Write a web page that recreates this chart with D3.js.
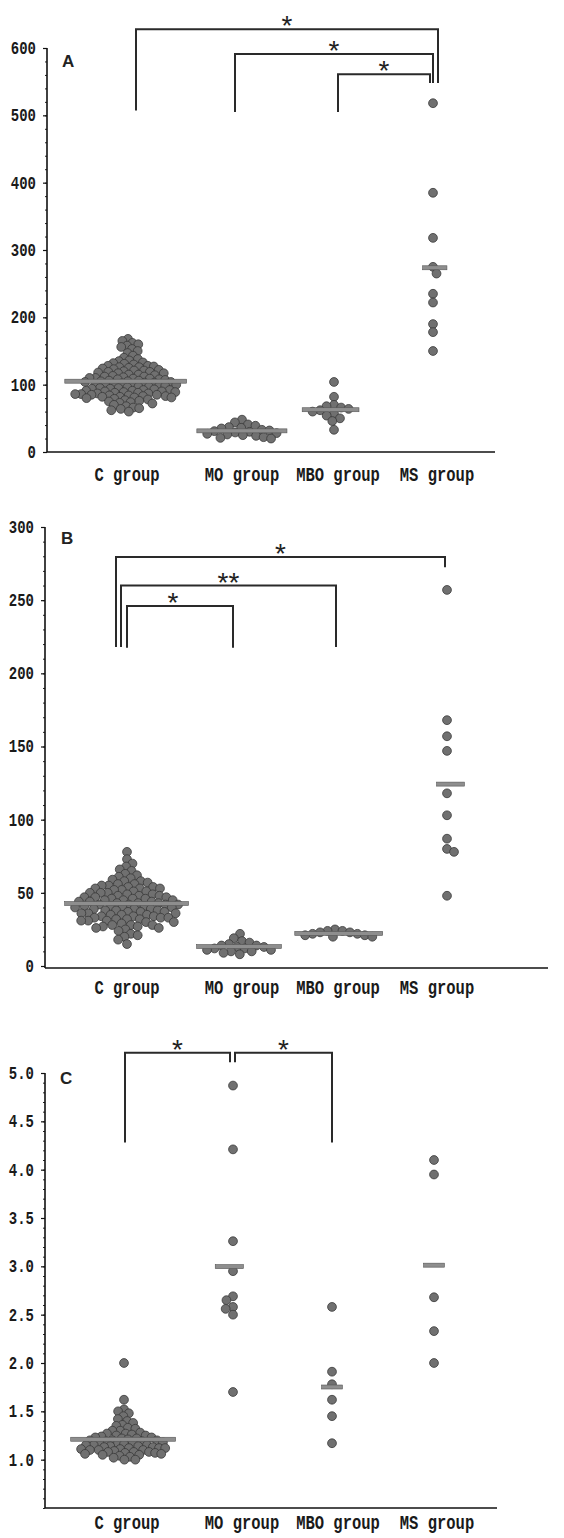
<!DOCTYPE html>
<html>
<head>
<meta charset="utf-8">
<script src="https://cdn.jsdelivr.net/npm/d3@7/dist/d3.min.js"></script>
<style>
  body { margin: 0; background: #fff; }
  .tick text, .glabel { font-family: "Liberation Mono", monospace; fill: #1a1a1a; font-weight: bold; }
</style>
</head>
<body>
<div id="chart"></div>
<script>
// group names on the x axis
var groups = ['C group', 'MO group', 'MBO group', 'MS group']

// panel A values
var aC = [168, 165, 162, 160, 158, 156, 153, 150, 147, 143, 140,
    138, 136, 135, 133, 132, 131, 130, 128, 128, 127, 126, 125, 124, 123, 121, 121, 120,
    126, 122, 119, 117, 113, 109, 106, 104, 101, 97, 94, 91, 89, 87, 85, 83, 81,
    119, 118, 117, 115, 115, 114, 112, 112, 111, 110, 110, 109, 108, 108, 107, 106, 105, 105, 104, 103, 103, 102, 101, 100, 100,
    99, 98, 98, 97, 96, 95, 95, 94, 93, 92, 92, 91, 90, 90, 89, 88, 88, 87, 86, 86, 85, 84, 84, 83, 82, 82, 81, 80,
    79, 78, 77, 76, 75, 74, 73, 72, 70, 68, 66, 65, 64, 62, 60]
var aMO = [48, 44, 41, 39, 37, 36, 35, 33, 32, 31, 30, 29, 28, 27, 26, 25, 24, 22, 21, 20]
var aMBO = [104, 82, 70, 68, 66, 64, 62, 60, 57, 54, 50, 46, 33]
var aMS = [518, 385, 318, 275, 265, 235, 222, 190, 178, 150]
var ticksA = [0, 100, 200, 300, 400, 500, 600]

// panel B values
var bC = [78, 73, 70, 68, 66, 65, 63, 62, 61, 60,
    59, 58, 58, 57, 56, 56, 55, 55,
    54, 54, 53, 53, 52, 52, 51, 51, 50, 50,
    49, 49, 48, 48, 47, 47, 46, 46, 45, 45, 45,
    44, 44, 43, 43, 42, 42, 42, 41, 41, 40, 40, 40,
    39, 39, 38, 38, 37, 37, 36, 36, 35, 35, 35,
    34, 34, 33, 33, 33, 32, 32, 31, 31, 31, 30, 30,
    53, 50, 48, 46, 44, 43, 41, 39, 38, 36, 34, 32, 47, 42, 37,
    29, 28, 28, 28, 27, 27, 26, 26, 25,
    24, 22, 21, 20, 18, 15]
var bMO = [22, 19, 17, 16, 15, 14, 14, 13, 13, 12, 12, 11, 11, 10, 10, 9, 8]
var bMBO = [25, 24, 24, 23, 23, 22, 22, 21, 21, 20, 20]
var bMS = [257, 168, 157, 147, 118, 103, 87, 80, 78, 48]
var ticksB = [0, 50, 100, 150, 200, 250, 300]

// panel C values
var cC = [2.0, 1.62, 1.52, 1.5, 1.48, 1.45, 1.42, 1.4, 1.38, 1.36,
    1.35, 1.33, 1.32, 1.3, 1.3, 1.28, 1.27, 1.27, 1.26, 1.25, 1.25,
    1.24, 1.23, 1.22, 1.22, 1.21, 1.2, 1.2, 1.19, 1.18, 1.18, 1.17, 1.16,
    1.15, 1.15, 1.14, 1.13, 1.13, 1.12, 1.12, 1.11, 1.1, 1.1, 1.09,
    1.23, 1.2, 1.17, 1.15, 1.12, 1.1, 1.08, 1.06, 1.14, 1.19, 1.11, 1.07,
    1.08, 1.08, 1.07, 1.06, 1.05, 1.05, 1.04, 1.03, 1.02, 1.0, 1.0]
var cMO = [4.87, 4.21, 3.26, 2.95, 2.69, 2.65, 2.58, 2.56, 2.5, 1.7]
var cMBO = [2.58, 1.91, 1.78, 1.62, 1.45, 1.17]
var cMS = [4.1, 3.95, 2.68, 2.33, 2.0]
var ticksC = [1.0, 1.5, 2.0, 2.5, 3.0, 3.5, 4.0, 4.5, 5.0]

var W = 564, H = 1538
var R = 4.4

var svg = d3.select('#chart').append('svg')
    .attr('width', W).attr('height', H)

// simple beeswarm: put each point as near the centre as it can go
function swarm(values, cx, y, diam) {
    var placed = []
    var sorted = values.slice().sort(function (a, b) { return b - a })
    sorted.forEach(function (v, i) {
        var py = y(v)
        var cands = [0]
        placed.forEach(function (p) {
            var dy = Math.abs(p.y - py)
            if (dy < diam) {
                var dx = Math.sqrt(diam * diam - dy * dy)
                cands.push(p.dx + dx, p.dx - dx)
            }
        })
        var sign = i % 2 ? 1 : -1
        cands.sort(function (a, b) { return (Math.abs(a) - Math.abs(b)) || (sign * (a - b)) })
        var best = cands.find(function (c) {
            return placed.every(function (p) {
                var ddx = p.dx - c, ddy = p.y - py
                return ddx * ddx + ddy * ddy >= diam * diam - 0.01
            })
        })
        placed.push({ v: v, y: py, dx: best })
    })
    return placed.map(function (p) { return { v: p.v, x: cx + p.dx, y: p.y } })
}

function drawPanel(p) {
    var g = svg.append('g')

    // y axis, minor then major
    g.append('g').attr('transform', 'translate(' + p.axisX + ',0)')
        .call(d3.axisLeft(p.y).tickValues(p.minor).tickSize(2).tickFormat(''))
        .call(function (s) { s.select('.domain').remove() })
        .selectAll('line').attr('stroke', '#222')

    var ax = g.append('g').attr('transform', 'translate(' + p.axisX + ',0)')
        .call(d3.axisLeft(p.y).tickValues(p.ticks).tickSize(4).tickSizeOuter(0).tickFormat(p.fmt))
    ax.select('.domain').attr('stroke', '#111').attr('stroke-width', 1.6)
        .attr('d', 'M0,' + p.y.range()[1] + 'V' + p.bottom)
    ax.selectAll('.tick line').attr('stroke', '#111').attr('stroke-width', 1.2)
    ax.selectAll('.tick text')
        .attr('x', -11).attr('dy', '0.3em')
        .attr('transform', 'scale(1,1.3)')
        .style('font-size', '14px')

    // x axis line
    g.append('line')
        .attr('x1', p.axisX).attr('x2', p.xEnd)
        .attr('y1', p.bottom).attr('y2', p.bottom)
        .attr('stroke', '#111').attr('stroke-width', 1.6)

    // group labels
    g.selectAll('.glabel').data(groups).enter().append('text')
        .attr('class', 'glabel')
        .attr('transform', function (d) { return 'translate(' + p.lx(d) + ',' + p.labelY + ') scale(1,1.3)' })
        .attr('text-anchor', 'middle')
        .style('font-size', '15.5px')
        .text(function (d) { return d })

    // panel letter
    g.append('text')
        .attr('x', p.letterX).attr('y', p.letterY)
        .style('font-family', '"Liberation Sans", Arial, sans-serif')
        .style('font-weight', 'bold').style('font-size', '17px')
        .attr('fill', '#222')
        .text(p.letter)

    // dots and mean bars
    p.series.forEach(function (vals, i) {
        var name = groups[i]
        var pts = swarm(vals, p.x(name), p.y, p.diam[i])
        g.selectAll(null).data(pts).enter().append('circle')
            .attr('cx', function (d) { return d.x })
            .attr('cy', function (d) { return d.y })
            .attr('r', R)
            .attr('fill', '#707070')
            .attr('stroke', '#3a3a3a').attr('stroke-width', 0.8)
        var x0 = d3.min(pts, function (d) { return d.x }) - R - 6
        var x1 = d3.max(pts, function (d) { return d.x }) + R + 6
        var my = p.y(d3.mean(vals))
        g.append('rect')
            .attr('x', x0).attr('y', my - 2)
            .attr('width', x1 - x0).attr('height', 4)
            .attr('fill', '#8e8e8e')
            .attr('stroke', '#555').attr('stroke-width', 0.6)
    })

    // significance brackets
    p.brackets.forEach(function (b) {
        var xl = p.x(b.from) + b.dl, xr = p.x(b.to) + b.dr
        var yt = p.y(b.top)
        g.append('path')
            .attr('d', 'M' + xl + ',' + p.y(b.lb) + 'V' + yt + 'H' + xr + 'V' + p.y(b.rb))
            .attr('fill', 'none')
            .attr('stroke', '#2a2a2a').attr('stroke-width', 2)
        g.append('text')
            .attr('x', (xl + xr) / 2 + (b.sx || 0)).attr('y', yt + 6)
            .attr('text-anchor', 'middle')
            .style('font-family', '"Liberation Sans", Arial, sans-serif')
            .style('font-size', '28px')
            .attr('fill', '#222')
            .text(b.label)
    })
}

var labelX = d3.scaleOrdinal().domain(groups).range([127, 242, 338, 437])

drawPanel({
    letter: 'A', letterX: 62, letterY: 67,
    y: d3.scaleLinear().domain([0, 600]).range([452, 48]),
    x: d3.scaleOrdinal().domain(groups).range([128, 242, 334, 433]),
    lx: labelX,
    axisX: 47, xEnd: 495, bottom: 452, labelY: 481,
    ticks: ticksA, minor: d3.range(0, 601, 20), fmt: d3.format('d'),
    series: [aC, aMO, aMBO, aMS],
    diam: [6.0, 7.6, 7.6, 7.6],
    brackets: [
        { from: 'C group', to: 'MS group', dl: 8, dr: 5, top: 628, lb: 507, rb: 548, label: '*' },
        { from: 'MO group', to: 'MS group', dl: -7, dr: 0, top: 591, lb: 505, rb: 548, label: '*' },
        { from: 'MBO group', to: 'MS group', dl: 4, dr: -3, top: 561, lb: 505, rb: 548, label: '*' }
    ]
})

drawPanel({
    letter: 'B', letterX: 61, letterY: 544,
    y: d3.scaleLinear().domain([0, 300]).range([966, 527]),
    x: d3.scaleOrdinal().domain(groups).range([127, 240, 335, 447]),
    lx: labelX,
    axisX: 45, xEnd: 548, bottom: 968, labelY: 994,
    ticks: ticksB, minor: d3.range(0, 301, 10), fmt: d3.format('d'),
    series: [bC, bMO, bMBO, bMS],
    diam: [7.0, 7.6, 7.6, 7.6],
    brackets: [
        { from: 'C group', to: 'MS group', dl: -11, dr: -2, top: 279.5, lb: 218, rb: 272.5, label: '*' },
        { from: 'C group', to: 'MBO group', dl: -6, dr: 1, top: 260, lb: 218, rb: 218, label: '**' },
        { from: 'C group', to: 'MO group', dl: 0, dr: -7, top: 246, lb: 217.5, rb: 217.5, label: '*', sx: -7 }
    ]
})

drawPanel({
    letter: 'C', letterX: 60, letterY: 1084,
    y: d3.scaleLinear().domain([0.5, 5.0]).range([1508, 1073]),
    x: d3.scaleOrdinal().domain(groups).range([124, 233, 332, 434]),
    lx: labelX,
    axisX: 45, xEnd: 497, bottom: 1508, labelY: 1529,
    ticks: ticksC, minor: d3.range(5, 51).map(function (d) { return d / 10 }), fmt: d3.format('.1f'),
    series: [cC, cMO, cMBO, cMS],
    diam: [6.2, 7.6, 7.6, 7.6],
    brackets: [
        { from: 'C group', to: 'MO group', dl: 1, dr: -3, top: 5.21, lb: 4.28, rb: 5.11, label: '*' },
        { from: 'MO group', to: 'MBO group', dl: 2, dr: 0, top: 5.21, lb: 5.11, rb: 4.28, label: '*' }
    ]
})
</script>
</body>
</html>
